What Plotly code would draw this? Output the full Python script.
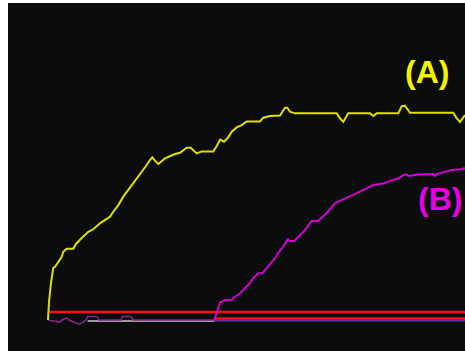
import plotly.graph_objects as go

# Series A: rises quickly then levels off around 100
a_t = [0, 0.24, 0.72, 1.27, 1.68, 2.47, 3.29, 3.67, 4.48, 6.07, 6.71, 8.08, 9.66, 10.86,
       12.47, 14.08, 14.87, 15.66, 16.86, 18.06, 19.26, 20.46, 21.65, 22.85, 23.67, 24.46,
       25.01, 25.66, 26.45, 28.06, 29.26, 30.46, 31.65, 33.26, 34.22, 35.66, 36.86, 39.64,
       40.46, 41.32, 42.21, 43.24, 44.05, 45.25, 46.45, 47.65, 50.84, 51.63, 53.24, 55.64,
       56.83, 57.39, 58.03, 59.23, 69.23, 70.02, 70.82, 72.01, 77.22, 78.01, 78.82, 84.01,
       84.82, 85.61, 86.81, 97.19, 98.01, 98.8, 100]
a_v = [0, 8.7, 17.9, 25.2, 25.8, 28.2, 30.6, 33.0, 34.5, 34.5, 36.8, 39.7, 42.7, 43.9,
       46.8, 48.9, 50.0, 52.4, 55.6, 59.7, 62.9, 66.1, 69.3, 72.6, 75.0, 77.4,
       78.7, 77.1, 75.5, 78.2, 79.3, 80.3, 80.9, 83.4, 83.4, 80.6, 81.6, 81.5,
       84.2, 87.3, 86.3, 88.4, 91.1, 93.2, 94.3, 96.1, 96.1, 97.9, 98.7, 99.0,
       102.7, 102.7, 100.8, 100.0, 100.0, 97.6, 95.9, 100.0, 100.0, 98.7, 100.0, 100.0,
       103.5, 103.7, 100.3, 100.3, 97.6, 95.9, 99.2]

# Series B: delayed start, slower rise
b_t = [39.88, 40.45, 40.84, 41.25, 42.45, 44.05, 44.84, 45.64, 46.83, 48.03, 49.23, 50.43,
       51.39, 52.04, 53.24, 54.44, 55.40, 56.43, 57.48, 58.03, 59.06, 60.43, 61.63, 63.24,
       64.82, 66.83, 68.82, 70.82, 73.21, 74.82, 76.43, 78.01, 80.41, 82.01, 84.01, 85.20,
       85.85, 86.40, 88.80, 92.40, 92.81, 93.21, 95.20, 96.81, 98.80, 100]
b_v = [0, 3.2, 6.4, 8.4, 9.7, 9.7, 11.3, 12.1, 14.5, 16.9, 20.2, 22.6,
       22.6, 24.2, 27.4, 29.9, 33.0, 35.5, 39.0, 38.2, 38.2, 41.1, 43.5, 47.9,
       47.9, 51.9, 56.5, 58.4, 60.5, 62.1, 63.7, 65.3, 66.1, 67.2, 68.6, 70.1,
       70.5, 69.7, 70.4, 70.6, 69.7, 70.6, 71.6, 72.6, 72.9, 73.4]

# Low-level baseline traces
base_t = [0, 2.16, 2.88, 3.36, 4.48, 5.0, 6.47, 7.43, 8.39, 9.1, 9.6, 11.75, 12.2,
          17.5, 17.87, 19.9, 20.4, 39.88]
base_v = [0, -1, -1, 0, 1, 0, -1, -2, -1, 0, 1.7, 1.7, 0, 0, 1.7, 1.7, 0, 0]
gray_t = [9.5, 39.88]
gray_v = [-0.5, -0.5]
ref_hi_t = [0.24, 100]
ref_hi_v = [3.9, 3.9]
ref_lo_t = [39.88, 100]
ref_lo_v = [0.7, 0.7]
under_t = [39.88, 100]
under_v = [-0.3, -0.3]

YELLOW = "#e0e000"
MAGENTA = "#d400d4"

fig = go.Figure()
fig.add_trace(go.Scatter(x=gray_t, y=gray_v, mode="lines",
                         line=dict(color="#9a9a9a", width=2)))
fig.add_trace(go.Scatter(x=base_t, y=base_v, mode="lines",
                         line=dict(color="#8a228e", width=1.5)))
fig.add_trace(go.Scatter(x=under_t, y=under_v, mode="lines",
                         line=dict(color="#6a2aa8", width=2)))
fig.add_trace(go.Scatter(x=ref_lo_t, y=ref_lo_v, mode="lines",
                         line=dict(color="#ff0a1a", width=2.5)))
fig.add_trace(go.Scatter(x=ref_hi_t, y=ref_hi_v, mode="lines",
                         line=dict(color="#ff0a1a", width=2.5)))
fig.add_trace(go.Scatter(x=b_t, y=b_v, mode="lines",
                         line=dict(color=MAGENTA, width=2)))
fig.add_trace(go.Scatter(x=a_t, y=a_v, mode="lines",
                         line=dict(color=YELLOW, width=2)))

fig.add_annotation(x=90.9, y=120, text="(A)", showarrow=False,
                   font=dict(family="Liberation Sans", size=32, color="#f2f200", weight="bold"))
fig.add_annotation(x=94.0, y=58.5, text="(B)", showarrow=False,
                   font=dict(family="Liberation Sans", size=32, color="#e600e6", weight="bold"))

fig.update_layout(
    width=465, height=351,
    margin=dict(l=8, r=0, t=3, b=0),
    paper_bgcolor="white",
    plot_bgcolor="#0b0d0d",
    showlegend=False,
    xaxis=dict(range=[-9.59, 100], visible=False, showgrid=False, zeroline=False),
    yaxis=dict(range=[-15.0, 153.4], visible=False, showgrid=False, zeroline=False),
)

fig.write_html("out.html", config=dict(displayModeBar=False))
